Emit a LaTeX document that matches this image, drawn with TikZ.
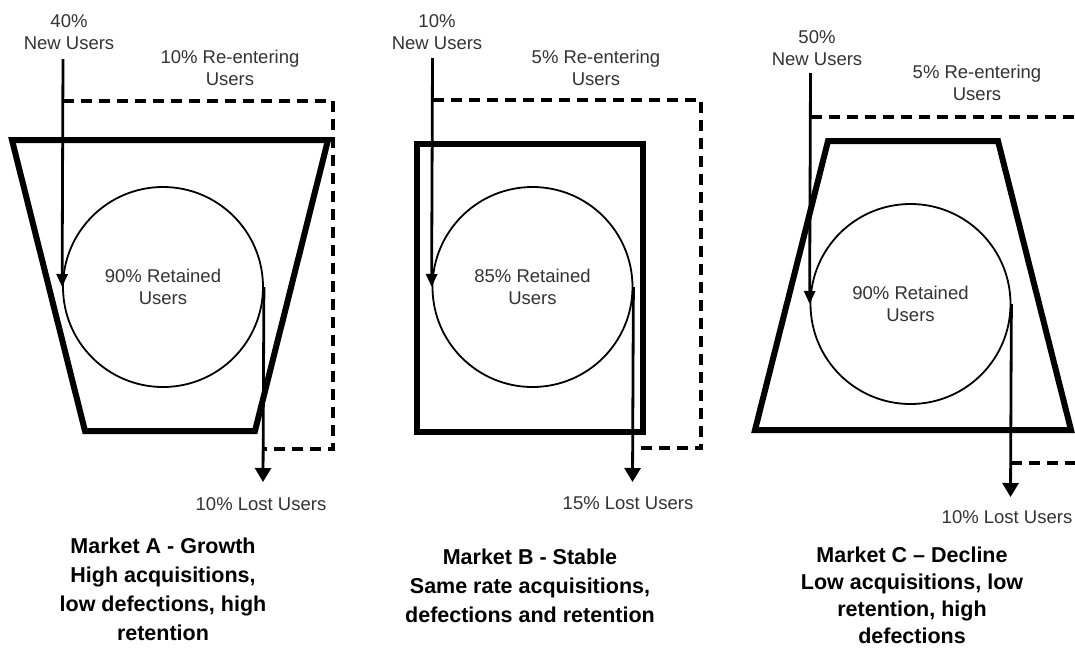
\documentclass[tikz,border=0pt]{standalone}
\usepackage{fontspec}
\setmainfont{Liberation Sans}
\usetikzlibrary{arrows.meta}
\begin{document}
\begin{tikzpicture}[x=1pt,y=-1pt,
  lbl/.style={font=\fontsize{18.5}{22}\selectfont, align=center, text=black!80, inner sep=0pt},
  captxt/.style={font=\bfseries\fontsize{21.5}{29}\selectfont, align=center, inner sep=0pt},
  frame/.style={line width=6pt, line join=miter},
  ret/.style={circle, draw, line width=1.8pt, minimum size=200pt, inner sep=0pt,
    font=\fontsize{18.5}{22}\selectfont, align=center, text=black!80},
  inarr/.style={line width=2.8pt, -{Triangle[length=13pt,width=11pt]}},
  outarr/.style={line width=2.8pt, -{Triangle[length=14pt,width=16pt]}},
  reent/.style={line width=3.2pt, dash pattern=on 11pt off 7pt}]
\useasboundingbox (0,0) rectangle (1075,651);
\fill[white] (0,0) rectangle (1075,651);

% ---------------- Market A ----------------
\draw[frame] (12,140) -- (328,140) -- (255,431) -- (85,431) -- cycle;
\node[ret] (circA) at (163,287) {90\% Retained\\Users};
\coordinate (nA) at (63,59);
\coordinate (lA) at (263,482);
\coordinate (rAtop) at (63,101);
\coordinate (rAcorner) at (333,449);
\coordinate (rAend) at (263,449);
\draw[reent] (rAtop) -| (rAcorner) -- (rAend);
\draw[inarr] (nA) -- (circA.west);
\draw[outarr] (circA.east) -- (lA);
\node[lbl] (tnA) at (69,32) {40\%\\New Users};
\node[lbl] (trA) at (230,68) {10\% Re-entering\\Users};
\node[lbl] (tlA) at (261,504) {10\% Lost Users};
\node[captxt] (capA) at (163,589) {Market A - Growth\\High acquisitions,\\low defections, high\\retention};

% ---------------- Market B ----------------
\draw[frame] (417,144) rectangle (643,432);
\node[ret] (circB) at (532.5,287) {85\% Retained\\Users};
\coordinate (nB) at (432.5,58);
\coordinate (lB) at (632.5,482);
\coordinate (rBtop) at (432.5,100);
\coordinate (rBcorner) at (701,448);
\coordinate (rBend) at (632.5,448);
\draw[reent] (rBtop) -| (rBcorner) -- (rBend);
\draw[inarr] (nB) -- (circB.west);
\draw[outarr] (circB.east) -- (lB);
\node[lbl] (tnB) at (437,32) {10\%\\New Users};
\node[lbl] (trB) at (596,68) {5\% Re-entering\\Users};
\node[lbl] (tlB) at (628,503) {15\% Lost Users};
\node[captxt] (capB) at (530,586) {Market B - Stable\\Same rate acquisitions,\\defections and retention};

% ---------------- Market C ----------------
\draw[frame] (828,141) -- (998,141) -- (1071,430) -- (755,430) -- cycle;
\node[ret] (circC) at (910.5,304) {90\% Retained\\Users};
\coordinate (nC) at (810.5,73);
\coordinate (lC) at (1010.5,497);
\coordinate (rCtop) at (810.5,117);
\coordinate (rCright) at (1076,117);
\coordinate (rCbot) at (1010.5,463);
\coordinate (rCbotright) at (1076,463);
\draw[reent] (rCtop) -- (rCright);
\draw[reent] (rCbot) -- (rCbotright);
\draw[inarr] (nC) -- (circC.west);
\draw[outarr] (circC.east) -- (lC);
\node[lbl] (tnC) at (817,48) {50\%\\New Users};
\node[lbl] (trC) at (977,83) {5\% Re-entering\\Users};
\node[lbl] (tlC) at (1007,517) {10\% Lost Users};
\node[captxt, font=\bfseries\fontsize{21.5}{27}\selectfont] (capC) at (912,595) {Market C -- Decline\\Low acquisitions, low\\retention, high\\defections};
\end{tikzpicture}
\end{document}
